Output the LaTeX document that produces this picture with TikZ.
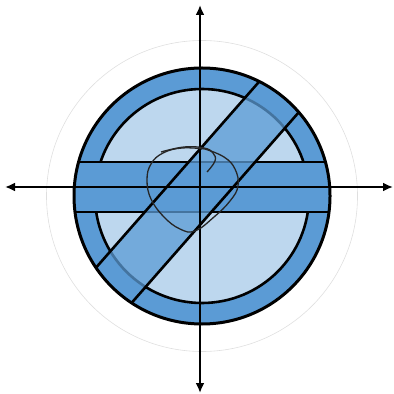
\documentclass[tikz,border=0pt]{standalone}
\usetikzlibrary{arrows.meta}
\definecolor{ringblue}{HTML}{5B9BD5}
\definecolor{paleblue}{HTML}{BDD7EE}
\begin{document}
\begin{tikzpicture}[x=0.5pt,y=-0.5pt]
\useasboundingbox (0,0) rectangle (394,394);
\coordinate (O) at (200,187);
\coordinate (C) at (202,196);
\coordinate (xl) at (5,187);
\coordinate (xr) at (393,187);
\coordinate (yt) at (200,5);
\coordinate (yb) at (200,393);

\newcommand{\rGhost}{155.5}
\newcommand{\rOut}{128}
\newcommand{\rIn}{107}

\draw [gray!25, line width=0.3pt] (C) circle (\rGhost);

\fill [ringblue] (C) circle (\rOut);
\draw [fill = paleblue, line width=1.3pt] (C) circle (\rIn);

\begin{scope}
\clip (C) circle (\rOut);
% flat band
\begin{scope}[shift={(O)}]
\fill [ringblue] (-200,-25) rectangle (200,25);
\draw [line width=1.3pt] (-200,-25) -- (200,-25);
\draw [line width=1.3pt] (-200,25) -- (200,25);
\end{scope}
% tilted band
\begin{scope}[shift={(O)},rotate=48.75]
\fill [ringblue, fill opacity=0.75] (-200,-25) rectangle (200,25);
\draw [line width=1.3pt] (-200,-25) -- (200,-25);
\draw [line width=1.3pt] (-200,25) -- (200,25);
\end{scope}
\end{scope}

\draw [line width=1.5pt] (C) circle (\rOut);

\draw [{Latex[length=5pt,width=4.5pt]}-{Latex[length=5pt,width=4.5pt]}, line width=1.2pt] (xl) -- (xr);
\draw [{Latex[length=5pt,width=4.5pt]}-{Latex[length=5pt,width=4.5pt]}, line width=1.2pt] (yt) -- (yb);

% scribble
\draw [black!85, line width=0.65pt] plot [smooth, tension=0.7] coordinates {(205,149) (182,148) (163,153) (151,164) (147,180) (151,199) (164,217) (180,229) (195,231) (214,217) (230,201) (238,186) (235,169) (224,157) (205,149)};
\draw [black!85, line width=0.65pt] plot [smooth, tension=0.7] coordinates {(161,152) (184,147) (204,148) (213,153) (215,161) (207,172)};
\end{tikzpicture}
\end{document}
